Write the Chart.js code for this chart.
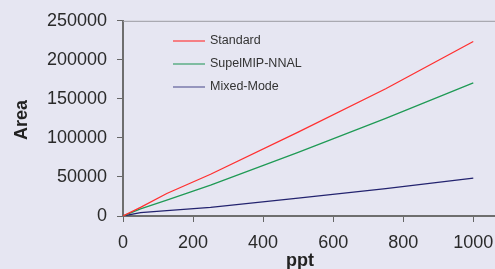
<!DOCTYPE html>
<html>
<head>
<meta charset="utf-8">
<script src="https://cdn.jsdelivr.net/npm/chart.js@4/dist/chart.umd.min.js"></script>
<style>
  html, body { margin: 0; padding: 0; background: #e6e6f2; }
  canvas { display: block; }
</style>
</head>
<body>
<canvas id="areaChart" width="495" height="269"></canvas>
<script>
// concentrations (ppt) and peak areas
const ppt = [0, 50, 125, 250, 500, 750, 1000];
const standard = [0, 11000, 28800, 53500, 107500, 163000, 223500];
const supelMip = [0, 9000, 20300, 39500, 81500, 125000, 170500];
const mixedMode = [0, 4200, 7000, 11000, 23000, 35000, 48500];

const xTicks = [0, 200, 400, 600, 800, 1000];
const yTicks = [0, 50000, 100000, 150000, 200000, 250000];

const seriesNames = ['Standard', 'SupelMIP-NNAL', 'Mixed-Mode'];
const seriesColors = ['#ff3030', '#1f9a55', '#23236f'];
const legendColors = ['#ff3a3a', '#3a9f6a', '#5f5f99'];

const FONT = '"Liberation Sans", Arial, sans-serif';

function toPoints(values) {
    return ppt.map((x, i) => ({ x: x, y: values[i] }));
}

// top border of the plot, legend and axis titles
const extras = {
    id: 'extras',
    afterDraw(chart) {
        const ctx = chart.ctx;
        const area = chart.chartArea;
        ctx.save();
        ctx.strokeStyle = '#9a9aa0';
        ctx.lineWidth = 1;
        ctx.beginPath();
        ctx.moveTo(area.left, area.top + 0.5);
        ctx.lineTo(area.right, area.top + 0.5);
        ctx.stroke();

        // legend
        ctx.font = '12.5px ' + FONT;
        ctx.textBaseline = 'middle';
        ctx.fillStyle = '#333333';
        seriesNames.forEach((name, i) => {
            const y = 41 + i * 23;
            ctx.strokeStyle = legendColors[i];
            ctx.lineWidth = 1.2;
            ctx.beginPath();
            ctx.moveTo(173, y);
            ctx.lineTo(205, y);
            ctx.stroke();
            ctx.fillText(name, 210, y);
        });

        // axis titles
        ctx.font = 'bold 18px ' + FONT;
        ctx.fillStyle = '#222222';
        ctx.textAlign = 'center';
        ctx.textBaseline = 'alphabetic';
        ctx.fillText('ppt', 300, 266);
        ctx.translate(27, 120);
        ctx.rotate(-Math.PI / 2);
        ctx.fillText('Area', 0, 0);
        ctx.restore();
    }
};

const ctx = document.getElementById('areaChart').getContext('2d');
const chart = new Chart(ctx, {
    type: 'line',
    data: {
        datasets: [standard, supelMip, mixedMode].map((values, i) => ({
            label: seriesNames[i],
            data: toPoints(values),
            borderColor: seriesColors[i],
            borderWidth: 1.3,
            pointRadius: 0,
            tension: 0,
            fill: false
        }))
    },
    options: {
        responsive: false,
        animation: false,
        devicePixelRatio: 1,
        layout: { padding: { top: 19, left: 0, right: 0, bottom: 0 } },
        scales: {
            x: {
                type: 'linear',
                min: 0,
                max: 1062,
                afterBuildTicks: (scale) => { scale.ticks = xTicks.map(v => ({ value: v })); },
                afterFit: (scale) => {
                    scale.height = 53;
                    scale.paddingRight = 0;
                },
                grid: {
                    drawOnChartArea: false,
                    drawTicks: true,
                    tickLength: 6,
                    tickColor: '#666666'
                },
                border: { display: true, color: '#6e6e6e', width: 2 },
                ticks: {
                    color: '#2a2a2a',
                    padding: 10,
                    maxRotation: 0,
                    font: { family: FONT, size: 18 },
                    callback: (v) => String(v)
                }
            },
            y: {
                min: 0,
                max: 250000,
                afterBuildTicks: (scale) => { scale.ticks = yTicks.map(v => ({ value: v })); },
                afterFit: (scale) => { scale.width = 123; },
                grid: {
                    drawOnChartArea: false,
                    drawTicks: true,
                    tickLength: 6,
                    tickColor: '#666666'
                },
                border: { display: true, color: '#6e6e6e', width: 2 },
                ticks: {
                    color: '#2a2a2a',
                    padding: 10,
                    font: { family: FONT, size: 18 },
                    callback: (v) => String(v)
                }
            }
        },
        plugins: {
            legend: { display: false },
            tooltip: { enabled: false }
        }
    },
    plugins: [extras]
});
</script>
</body>
</html>
